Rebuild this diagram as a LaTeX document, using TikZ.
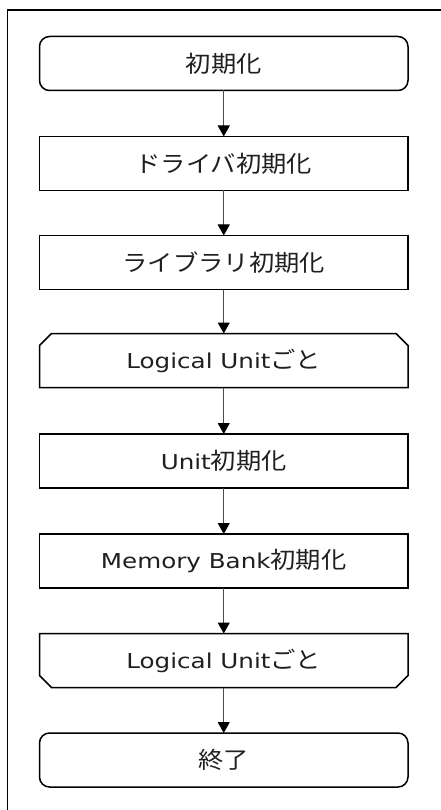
\documentclass[tikz,border=0pt]{standalone}
\usepackage{fontspec}
\setmainfont{DejaVu Sans}[FakeStretch=1.2]
\newfontfamily\jpfont{Noto Sans CJK JP}[FakeStretch=1.1]
\newcommand\jtxt[1]{{\jpfont\fontsize{23}{26}\selectfont #1}}
\usetikzlibrary{arrows.meta,calc}
\begin{document}
\begin{tikzpicture}[x=1pt,y=-1pt,
  base/.style={minimum width=368.5pt,minimum height=54pt,inner sep=0pt,outer sep=0pt,
    text=black!88,font=\fontsize{20.5}{24}\selectfont},
  box/.style={base,draw=black,line width=1.5pt,fill=white},
  roundbox/.style={box,rounded corners=10pt},
  loopbox/.style={base},
  edge/.style={line width=1.5pt,draw=black,line join=miter},
  conn/.style={draw=black!70,line width=1pt,-{Triangle[width=12pt,length=11pt,black]}}]
\useasboundingbox (0,0) rectangle (441,810);
\draw[line width=1.8pt] (7.5,815) -- (7.5,10) -- (445,10);

\node[roundbox] (n1) at (223.75,63.5) {\jtxt{初期化}};
\node[box] (n2) at (223.75,163.5) {\jtxt{ドライバ初期化}};
\node[box] (n3) at (223.75,262.5) {\jtxt{ライブラリ初期化}};
\node[loopbox] (n4) at (223.75,360.5) {Logical Unit\jtxt{ごと}};
\node[box] (n5) at (223.75,461) {Unit\jtxt{初期化}};
\node[box] (n6) at (223.75,561) {Memory Bank\jtxt{初期化}};
\node[loopbox] (n7) at (223.75,660.5) {Logical Unit\jtxt{ごと}};
\node[roundbox] (n8) at (223.75,760) {\jtxt{終了}};

\draw[edge] (n4.south west) -- ($(n4.north west)+(0,12)$) -- ($(n4.north west)+(12,0)$)
  -- ($(n4.north east)+(-12,0)$) -- ($(n4.north east)+(0,12)$) -- (n4.south east) -- cycle;
\draw[edge] (n7.north west) -- ($(n7.south west)+(0,-12)$) -- ($(n7.south west)+(12,0)$)
  -- ($(n7.south east)+(-12,0)$) -- ($(n7.south east)+(0,-12)$) -- (n7.north east) -- cycle;

\draw[conn] (n1) -- (n2);
\draw[conn] (n2) -- (n3);
\draw[conn] (n3) -- (n4);
\draw[conn] (n4) -- (n5);
\draw[conn] (n5) -- (n6);
\draw[conn] (n6) -- (n7);
\draw[conn] (n7) -- (n8);
\end{tikzpicture}
\end{document}
